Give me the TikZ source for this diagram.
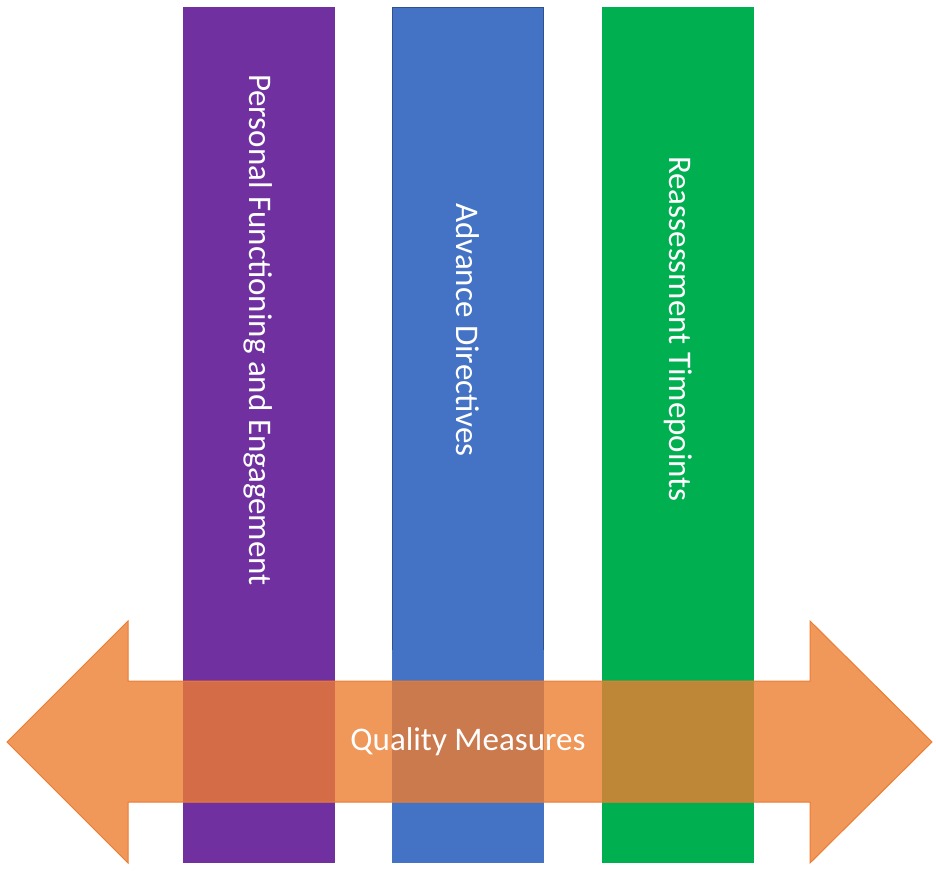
\documentclass[tikz,border=0pt]{standalone}
\usepackage{fontspec}
\setmainfont{Carlito}
\definecolor{barpurple}{HTML}{7030A0}
\definecolor{barblue}{HTML}{4472C4}
\definecolor{barblueedge}{HTML}{2F528F}
\definecolor{bargreen}{HTML}{00B050}
\definecolor{arroworange}{HTML}{ED7D31}
\begin{document}
\begin{tikzpicture}[x=1pt,y=-1pt,
  bar/.style={rectangle, inner sep=0pt, minimum width=152pt, minimum height=856pt},
  bartext/.style={text=white, font=\fontsize{33}{40}\selectfont, rotate=-90, inner sep=0pt}]
\useasboundingbox (0,0) rectangle (936,870);
\fill[white] (0,0) rectangle (936,870);
% bars
\node[bar, fill=barpurple] (p) at (258.5,435) {};
\node[bar, fill=barblue] (b) at (468,435) {};
\draw[barblueedge, line width=1.2pt] (392.6,650) -- (392.6,7.6) -- (543.4,7.6) -- (543.4,650);
\node[bar, fill=bargreen] (g) at (678,435) {};
% arrow
\draw[arroworange, line width=1pt, fill=arroworange, fill opacity=0.8, line join=miter]
  (7,742) -- (128,621) -- (128,681) -- (810,681) -- (810,621) -- (932,742)
  -- (810,863) -- (810,802) -- (128,802) -- (128,863) -- cycle;
% texts
\node[bartext] (tp) at (258.5,330) {Personal Functioning and Engagement};
\node[bartext] (tb) at (468,330) {Advance Directives};
\node[bartext] (tg) at (678,329) {Reassessment Timepoints};
\node[text=white, font=\fontsize{33}{40}\selectfont, inner sep=0pt] (q) at (468,742) {Quality Measures};
\end{tikzpicture}
\end{document}
